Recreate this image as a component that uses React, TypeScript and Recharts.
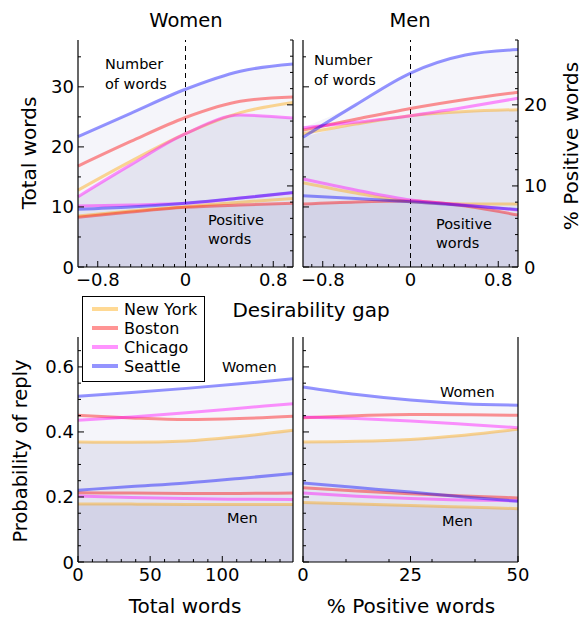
import { Area, ComposedChart, Line, ReferenceLine, XAxis, YAxis } from "recharts";

const FONT = "DejaVu Sans";
const W = 584;
const H = 619;

const cities = ["New York", "Boston", "Chicago", "Seattle"];
const cityColors = ["#ffa500", "#ff0000", "#ff00ff", "#0000ff"];

// top row: x = desirability gap
const gapX = [-0.98, -0.5, 0, 0.5, 0.98];
const gapTicks = [-0.9, -0.8, -0.7, -0.6, -0.5, -0.4, -0.3, -0.2, -0.1, 0, 0.1, 0.2, 0.3, 0.4, 0.5, 0.6, 0.7, 0.8, 0.9];
const gapLabels = [-0.8, 0, 0.8];
const wordTicks = [0, 5, 10, 15, 20, 25, 30, 35];
const wordLabels = [0, 10, 20, 30];
const pctTicks = [0, 2, 4, 6, 8, 10, 12, 14, 16, 18, 20, 22, 24, 26, 28];
const pctLabels = [0, 10, 20];

// rows in city order: New York, Boston, Chicago, Seattle
const womenTotalWords = [
  [12.8, 17.6, 22.2, 25.7, 27.4],
  [16.8, 20.9, 24.9, 27.6, 28.3],
  [11.7, 17.0, 22.2, 25.3, 24.8],
  [21.7, 25.6, 29.6, 32.6, 33.8],
];
const womenPositivePct = [
  [6.29, 6.9, 7.44, 8.0, 8.45],
  [6.13, 6.78, 7.36, 7.65, 7.86],
  [7.52, 7.65, 7.86, 8.5, 9.17],
  [7.12, 7.4, 7.86, 8.5, 9.2],
];
const menTotalWords = [
  [22.2, 23.8, 25.2, 25.9, 26.2],
  [22.8, 24.6, 26.4, 27.9, 29.1],
  [23.2, 24.1, 25.2, 26.6, 28.1],
  [21.6, 27.0, 32.3, 35.3, 36.2],
];
const menPositivePct = [
  [10.4, 9.13, 8.05, 7.77, 7.77],
  [7.77, 8.02, 8.14, 7.52, 6.41],
  [10.85, 9.5, 8.26, 7.65, 7.03],
  [8.8, 8.45, 8.05, 7.59, 7.09],
];

// bottom row: probability of reply
const replyTicks = [0, 0.05, 0.1, 0.15, 0.2, 0.25, 0.3, 0.35, 0.4, 0.45, 0.5, 0.55, 0.6, 0.65];
const replyLabels = [0, 0.2, 0.4, 0.6];

const wordsX = [0, 37, 75, 112, 149];
const wordsTicks = [0, 10, 20, 30, 40, 50, 60, 70, 80, 90, 100, 110, 120, 130, 140];
const wordsLabels = [0, 50, 100];
const womenReplyByWords = [
  [0.369, 0.368, 0.372, 0.386, 0.405],
  [0.451, 0.443, 0.438, 0.441, 0.448],
  [0.436, 0.446, 0.459, 0.473, 0.487],
  [0.51, 0.521, 0.534, 0.548, 0.564],
];
const menReplyByWords = [
  [0.178, 0.178, 0.177, 0.177, 0.177],
  [0.213, 0.212, 0.211, 0.211, 0.212],
  [0.203, 0.198, 0.195, 0.193, 0.192],
  [0.221, 0.232, 0.243, 0.257, 0.272],
];

const positiveX = [0, 12.5, 25, 37.5, 50];
const positiveTicks = [0, 10, 20, 25, 30, 40, 50];
const positiveLabels = [0, 25, 50];
const womenReplyByPositive = [
  [0.369, 0.371, 0.377, 0.39, 0.408],
  [0.444, 0.45, 0.454, 0.453, 0.451],
  [0.446, 0.441, 0.434, 0.424, 0.413],
  [0.538, 0.515, 0.498, 0.487, 0.482],
];
const menReplyByPositive = [
  [0.183, 0.178, 0.174, 0.169, 0.164],
  [0.228, 0.218, 0.21, 0.203, 0.197],
  [0.212, 0.202, 0.195, 0.191, 0.188],
  [0.243, 0.229, 0.215, 0.2, 0.187],
];

function buildRows(xs: number[], upper: number[][], lower: number[][]) {
  return xs.map((x, i) => {
    const row: Record<string, number> = { x };
    upper.forEach((s, c) => (row["u" + c] = s[i]));
    lower.forEach((s, c) => (row["l" + c] = s[i]));
    const up = upper.map((s) => s[i]);
    const lo = lower.map((s) => s[i]);
    row.upMax = Math.max(...up);
    row.upMin = Math.min(...up);
    row.loMin = Math.min(...lo);
    return row;
  });
}

const fmtGap = (v: number) => (v === 0 ? "0" : v < 0 ? "\u2212" + Math.abs(v).toFixed(1) : v.toFixed(1));
const fmtInt = (v: number) => String(v);
const fmtProb = (v: number) => (v === 0 ? "0" : v.toFixed(1));

type Side = "left" | "right" | "top" | "bottom";

function tickRenderer(side: Side, majors: number[], fmt: (v: number) => string, labels: boolean) {
  return (props: any) => {
    const { x, y, payload } = props;
    const v = payload.value as number;
    const major = majors.some((m) => Math.abs(m - v) < 1e-6);
    const len = major ? 6 : 3;
    const textStyle = { fontFamily: FONT, fontSize: 18, fill: "#000" };
    let mark;
    let label = null;
    if (side === "left") {
      mark = <line x1={x} y1={y} x2={x + len} y2={y} stroke="#000" />;
      if (labels && major)
        label = (
          <text x={x - 4} y={y} textAnchor="end" dominantBaseline="central" style={textStyle}>
            {fmt(v)}
          </text>
        );
    } else if (side === "right") {
      mark = <line x1={x - len} y1={y} x2={x} y2={y} stroke="#000" />;
      if (labels && major)
        label = (
          <text x={x + 6} y={y} textAnchor="start" dominantBaseline="central" style={textStyle}>
            {fmt(v)}
          </text>
        );
    } else if (side === "bottom") {
      mark = <line x1={x} y1={y - len} x2={x} y2={y} stroke="#000" />;
      if (labels && major)
        label = (
          <text x={x} y={y + 19} textAnchor="middle" style={textStyle}>
            {fmt(v)}
          </text>
        );
    } else {
      mark = <line x1={x} y1={y} x2={x} y2={y + len} stroke="#000" />;
    }
    return (
      <g>
        {mark}
        {label}
      </g>
    );
  };
}

type PanelProps = {
  box: { l: number; r: number; t: number; b: number };
  rows: Record<string, number>[];
  xDomain: [number, number];
  xTicks: number[];
  xLabels: number[];
  xFmt: (v: number) => string;
  yDomain: [number, number];
  yTicks: number[];
  yLabels: number[];
  yFmt: (v: number) => string;
  showY: boolean;
  rDomain: [number, number];
  rTicks: number[];
  rLabels: number[];
  showR: boolean;
  lowerAxis: "y" | "r";
  dashedZero?: boolean;
};

const axisLine = { stroke: "#000", strokeWidth: 1.2 };

function Panel(p: PanelProps) {
  const margin = {
    top: p.box.t,
    left: p.box.l - 40,
    right: W - p.box.r - 40,
    bottom: H - p.box.b - 30,
  };
  return (
    <div style={{ position: "absolute", left: 0, top: 0 }}>
      <ComposedChart width={W} height={H} data={p.rows} margin={margin}>
        <XAxis
          xAxisId="b"
          dataKey="x"
          type="number"
          domain={p.xDomain}
          ticks={p.xTicks}
          interval={0}
          height={30}
          tickSize={0}
          tickMargin={0}
          tickLine={false}
          axisLine={axisLine}
          tick={tickRenderer("bottom", p.xLabels, p.xFmt, true)}
        />
        <XAxis
          xAxisId="t"
          orientation="top"
          dataKey="x"
          type="number"
          domain={p.xDomain}
          ticks={p.xTicks}
          interval={0}
          height={0}
          tickSize={0}
          tickMargin={0}
          tickLine={false}
          axisLine={axisLine}
          tick={tickRenderer("top", p.xLabels, p.xFmt, false)}
        />
        <YAxis
          yAxisId="y"
          type="number"
          domain={p.yDomain}
          ticks={p.yTicks}
          interval={0}
          width={40}
          tickSize={0}
          tickMargin={0}
          tickLine={false}
          axisLine={axisLine}
          tick={tickRenderer("left", p.yLabels, p.yFmt, p.showY)}
        />
        <YAxis
          yAxisId="r"
          orientation="right"
          type="number"
          domain={p.rDomain}
          ticks={p.rTicks}
          interval={0}
          width={40}
          tickSize={0}
          tickMargin={0}
          tickLine={false}
          axisLine={axisLine}
          tick={tickRenderer("right", p.rLabels, fmtInt, p.showR)}
        />
        <Area
          xAxisId="b"
          yAxisId="y"
          type="monotone"
          dataKey="upMax"
          stroke="none"
          fill="#f5f5fa"
          fillOpacity={1}
          isAnimationActive={false}
        />
        <Area
          xAxisId="b"
          yAxisId="y"
          type="monotone"
          dataKey="upMin"
          stroke="none"
          fill="#e4e4f0"
          fillOpacity={1}
          isAnimationActive={false}
        />
        <Area
          xAxisId="b"
          yAxisId={p.lowerAxis}
          type="monotone"
          dataKey="loMin"
          stroke="none"
          fill="#d3d3e7"
          fillOpacity={1}
          isAnimationActive={false}
        />
        {p.dashedZero && (
          <ReferenceLine xAxisId="b" yAxisId="y" x={0} stroke="#000" strokeDasharray="5 4" strokeWidth={1} />
        )}
        {cities.map((c, i) => (
          <Line
            key={"u" + c}
            xAxisId="b"
            yAxisId="y"
            type="monotone"
            dataKey={"u" + i}
            stroke={cityColors[i]}
            strokeOpacity={0.42}
            strokeWidth={3}
            dot={false}
            activeDot={false}
            isAnimationActive={false}
          />
        ))}
        {cities.map((c, i) => (
          <Line
            key={"l" + c}
            xAxisId="b"
            yAxisId={p.lowerAxis}
            type="monotone"
            dataKey={"l" + i}
            stroke={cityColors[i]}
            strokeOpacity={0.42}
            strokeWidth={3}
            dot={false}
            activeDot={false}
            isAnimationActive={false}
          />
        ))}
      </ComposedChart>
    </div>
  );
}

const txt = { fontFamily: FONT, fill: "#000" };

export default function App() {
  const topCommon = {
    xDomain: [-0.98, 0.98] as [number, number],
    xTicks: gapTicks,
    xLabels: gapLabels,
    xFmt: fmtGap,
    yDomain: [0, 37.8] as [number, number],
    yTicks: wordTicks,
    yLabels: wordLabels,
    yFmt: fmtInt,
    rDomain: [0, 28] as [number, number],
    rTicks: pctTicks,
    rLabels: pctLabels,
    lowerAxis: "r" as const,
    dashedZero: true,
  };
  const bottomCommon = {
    yDomain: [0, 0.692] as [number, number],
    yTicks: replyTicks,
    yLabels: replyLabels,
    yFmt: fmtProb,
    rDomain: [0, 0.692] as [number, number],
    rTicks: replyTicks,
    rLabels: replyLabels,
    showR: false,
    lowerAxis: "y" as const,
  };
  return (
    <div style={{ position: "absolute", left: 0, top: 0, width: W, height: H, background: "#fff", fontFamily: FONT }}>
      <Panel
        {...topCommon}
        box={{ l: 78, r: 293, t: 40, b: 267 }}
        rows={buildRows(gapX, womenTotalWords, womenPositivePct)}
        showY={true}
        showR={false}
      />
      <Panel
        {...topCommon}
        box={{ l: 303, r: 518, t: 40, b: 267 }}
        rows={buildRows(gapX, menTotalWords, menPositivePct)}
        showY={false}
        showR={true}
      />
      <Panel
        {...bottomCommon}
        box={{ l: 78, r: 293, t: 337, b: 562 }}
        rows={buildRows(wordsX, womenReplyByWords, menReplyByWords)}
        xDomain={[0, 149]}
        xTicks={wordsTicks}
        xLabels={wordsLabels}
        xFmt={fmtInt}
        showY={true}
      />
      <Panel
        {...bottomCommon}
        box={{ l: 303, r: 518, t: 337, b: 562 }}
        rows={buildRows(positiveX, womenReplyByPositive, menReplyByPositive)}
        xDomain={[0, 50]}
        xTicks={positiveTicks}
        xLabels={positiveLabels}
        xFmt={fmtInt}
        showY={false}
      />
      <svg width={W} height={H} style={{ position: "absolute", left: 0, top: 0, pointerEvents: "none" }}>
        <text x={186} y={27} textAnchor="middle" fontSize={19.5} style={txt}>Women</text>
        <text x={410} y={27} textAnchor="middle" fontSize={19.5} style={txt}>Men</text>
        <text transform="translate(29,153) rotate(-90)" textAnchor="middle" dominantBaseline="central" fontSize={20} style={txt}>
          Total words
        </text>
        <text transform="translate(571,146) rotate(-90)" textAnchor="middle" dominantBaseline="central" fontSize={20} style={txt}>
          % Positive words
        </text>
        <text x={311} y={317} textAnchor="middle" fontSize={20} style={txt}>Desirability gap</text>
        <text transform="translate(20,451) rotate(-90)" textAnchor="middle" dominantBaseline="central" fontSize={19.5} style={txt}>
          Probability of reply
        </text>
        <text x={185} y={613} textAnchor="middle" fontSize={20} style={txt}>Total words</text>
        <text x={411} y={613} textAnchor="middle" fontSize={20} style={txt}>% Positive words</text>

        <text x={105} y={69} fontSize={14.5} style={txt}>Number</text>
        <text x={105} y={89} fontSize={14.5} style={txt}>of words</text>
        <text x={208} y={225} fontSize={14.5} style={txt}>Positive</text>
        <text x={208} y={244} fontSize={14.5} style={txt}>words</text>
        <text x={314} y={65} fontSize={14.5} style={txt}>Number</text>
        <text x={314} y={85} fontSize={14.5} style={txt}>of words</text>
        <text x={436} y={229} fontSize={14.5} style={txt}>Positive</text>
        <text x={436} y={248} fontSize={14.5} style={txt}>words</text>

        <text x={222} y={372} fontSize={14.5} style={txt}>Women</text>
        <text x={227} y={523} fontSize={14.5} style={txt}>Men</text>
        <text x={440} y={397} fontSize={14.5} style={txt}>Women</text>
        <text x={442} y={526} fontSize={14.5} style={txt}>Men</text>

        <rect x={82.5} y={296.5} width={122} height={85} fill="#fff" stroke="#000" strokeWidth={1} />
        {cities.map((c, i) => (
          <g key={c}>
            <line x1={92} x2={118} y1={309 + i * 19} y2={309 + i * 19} stroke={cityColors[i]} strokeOpacity={0.42} strokeWidth={4} />
            <text x={124} y={309 + i * 19} dominantBaseline="central" fontSize={16} style={txt}>
              {c}
            </text>
          </g>
        ))}
      </svg>
    </div>
  );
}
